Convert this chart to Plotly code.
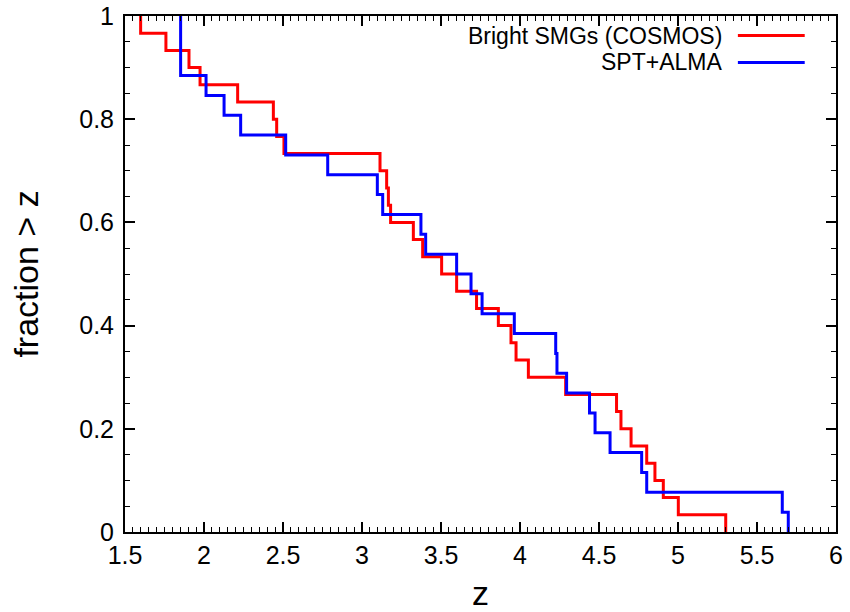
import plotly.graph_objects as go

# Redshifts (sorted)
cosmos_z = [1.599, 1.759, 1.905, 1.975, 2.213, 2.439, 2.460, 2.506, 3.114, 3.156,
            3.167, 3.181, 3.325, 3.384, 3.504, 3.599, 3.725, 3.863, 3.943, 3.975,
            4.053, 4.289, 4.611, 4.639, 4.703, 4.802, 4.854, 4.907, 5.002, 5.302]
spt_z = [1.852, 1.852, 1.852, 2.013, 2.127, 2.232, 2.517, 2.783, 3.097, 3.131,
         3.373, 3.403, 3.599, 3.690, 3.760, 3.964, 4.226, 4.234, 4.295, 4.440,
         4.475, 4.570, 4.770, 4.802, 5.660, 5.698]

series_names = ["Bright SMGs (COSMOS)", "SPT+ALMA"]
series_colors = ["#ff0000", "#0000ff"]
x_ticks = [1.5, 2, 2.5, 3, 3.5, 4, 4.5, 5, 5.5, 6]
y_ticks = [0, 0.2, 0.4, 0.6, 0.8, 1]


def survival(zs):
    n = len(zs)
    xs = [zs[0]]
    ys = [1.0]
    for i, z in enumerate(zs):
        xs.append(z)
        ys.append((n - i - 1) / n)
    return xs, ys


FONT = "Liberation Sans, Arial, sans-serif"
fig = go.Figure()
for zs, name, col in zip([cosmos_z, spt_z], series_names, series_colors):
    xs, ys = survival(zs)
    fig.add_trace(go.Scatter(x=xs, y=ys, mode="lines", line=dict(color=col, width=3, shape="hv"),
                             name=name, showlegend=False, cliponaxis=False))

# legend drawn manually (text on the left, sample on the right)
leg_y = [0.9622, 0.9099]
for name, col, yy in zip(series_names, series_colors, leg_y):
    fig.add_annotation(x=0.843, y=yy, xref="paper", yref="paper", text=name, showarrow=False,
                       xanchor="right", yanchor="middle", font=dict(family=FONT, size=23, color="black"))
    fig.add_shape(type="line", xref="paper", yref="paper", x0=0.862, x1=0.956, y0=yy, y1=yy,
                  line=dict(color=col, width=3))

axis_common = dict(showgrid=False, zeroline=False, showline=True, linecolor="black", linewidth=2,
                   mirror="allticks", ticks="inside", ticklen=10, tickwidth=1.5, tickcolor="black",
                   automargin=False,
                   tickfont=dict(family=FONT, size=25, color="black"))
fig.update_xaxes(range=[1.5, 6], tickvals=x_ticks, ticktext=[f"{v:g}" for v in x_ticks],
                 minor=dict(ticks="inside", ticklen=5, dtick=0.05, tick0=1.5, tickcolor="black", tickwidth=1),
                 title=dict(text="z", font=dict(family=FONT, size=34, color="black"), standoff=14),
                 **axis_common)
fig.update_yaxes(range=[0, 1], tickvals=y_ticks, ticktext=[f"{v:g}" for v in y_ticks],
                 minor=dict(ticks="inside", ticklen=5, dtick=0.05, tick0=0, tickcolor="black", tickwidth=1),
                 title=dict(text="fraction > z", font=dict(family=FONT, size=34, color="black"), standoff=30),
                 ticklabelstandoff=4,
                 **axis_common)
fig.update_layout(width=850, height=612, margin=dict(l=125, r=14, t=16, b=80),
                  plot_bgcolor="white", paper_bgcolor="white", showlegend=False)
fig.write_html("out.html")
